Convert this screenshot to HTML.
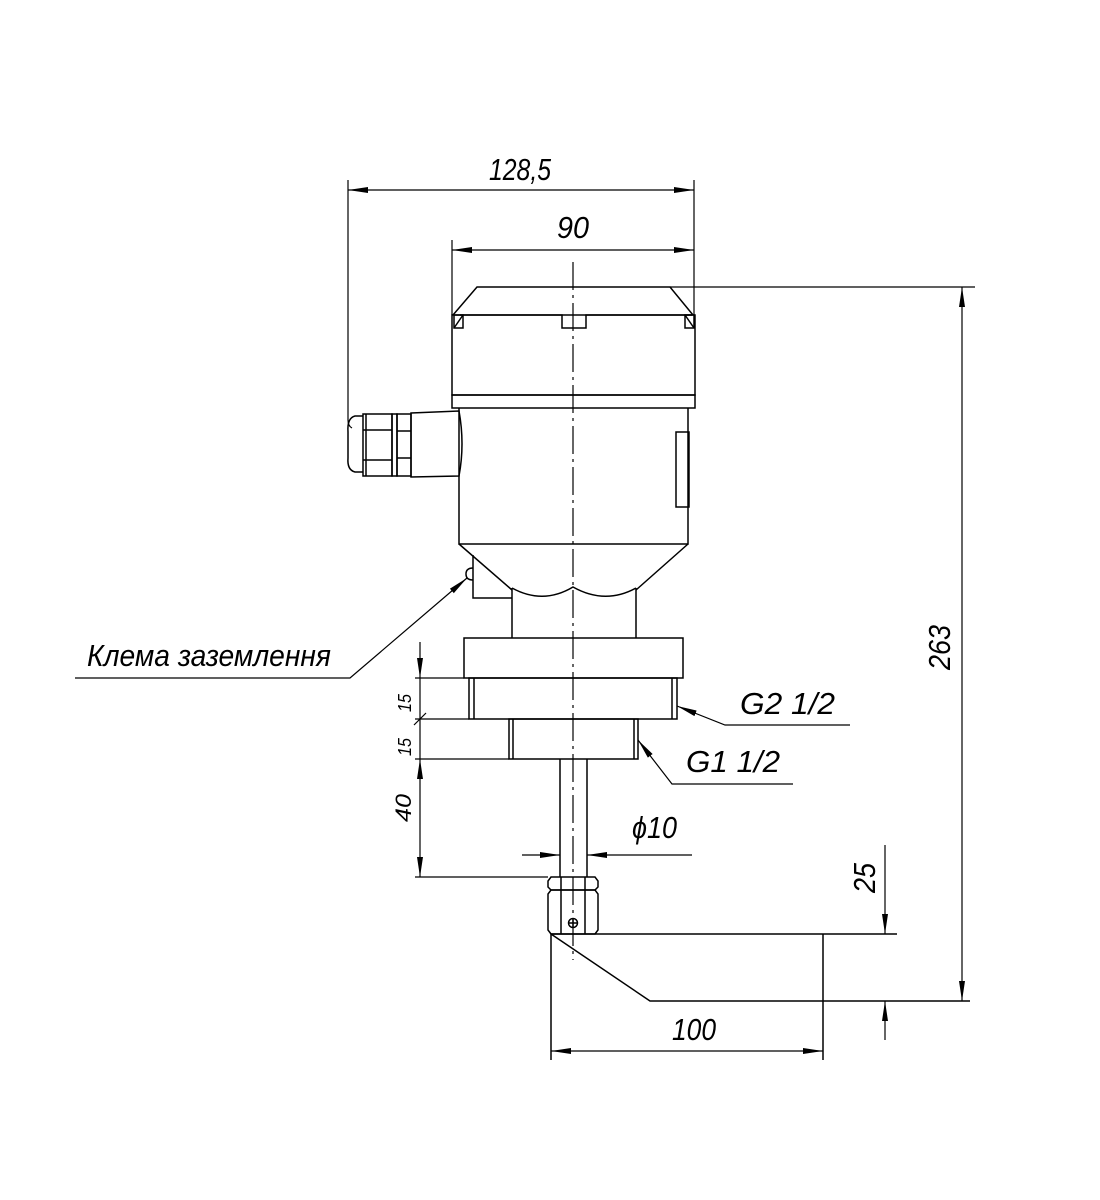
<!DOCTYPE html>
<html><head><meta charset="utf-8"><style>
html,body{margin:0;padding:0;background:#fff;}
svg{display:block;}
text{font-family:"Liberation Sans",sans-serif;font-style:italic;fill:#000;}
</style></head><body>
<svg width="1100" height="1200" viewBox="0 0 1100 1200" xmlns="http://www.w3.org/2000/svg">
<defs>
<marker id="a" viewBox="0 0 20 6" refX="20" refY="3" markerWidth="20" markerHeight="6" markerUnits="userSpaceOnUse" orient="auto-start-reverse"><path d="M0,0 L20,3 L0,6 Z" fill="#000"/></marker>
</defs>
<g fill="none" stroke="#000" stroke-width="1.5">
<line x1="573" y1="262" x2="573" y2="960" stroke-dasharray="28,5,3,5" stroke-width="1.2"/>
<path d="M453,315 L477,287 L670,287 L693,315"/>
<path d="M460,315 L562,315 L562,328 L586,328 L586,315 L692,315"/>
<rect x="454" y="315" width="9" height="13"/><line x1="454" y1="328" x2="463" y2="315"/>
<rect x="685" y="315" width="9" height="13"/><line x1="694" y1="328" x2="685" y2="315"/>
<rect x="452" y="315" width="243" height="80"/>
<rect x="452" y="395" width="243" height="13"/>
<path d="M459,408 L459,544 L688,544 L688,408"/>
<rect x="676" y="432" width="13" height="75"/>
<path d="M411,413 L459,411 Q465,444 459,476 L411,477 Z"/>
<rect x="397" y="414" width="14" height="62"/>
<line x1="397" y1="431" x2="411" y2="431"/><line x1="397" y1="458" x2="411" y2="458"/>
<rect x="392" y="414" width="5" height="62"/>
<path d="M363,414 L392,414 L392,476 L363,476 Z"/>
<line x1="366" y1="414" x2="366" y2="476"/><line x1="363" y1="430" x2="392" y2="430"/><line x1="363" y1="460" x2="392" y2="460"/>
<path d="M363,416 L355,416 Q347,418 348,432 L348,458 Q347,470 355,472 L363,472"/>
<path d="M459,544 L512,590 M688,544 L636,590"/>
<path d="M512,588 Q543,605 573,587 Q605,605 636,588"/>
<path d="M473,555 L473,598 L512,598"/>
<path d="M473,568 Q466,568 466,574 Q466,580 473,580"/>
<line x1="512" y1="588" x2="512" y2="638"/><line x1="636" y1="588" x2="636" y2="638"/>
<rect x="464" y="638" width="219" height="40"/>
<rect x="469" y="678" width="208" height="41"/>
<line x1="474" y1="678" x2="474" y2="719"/><line x1="672" y1="678" x2="672" y2="719"/>
<rect x="509" y="719" width="129" height="40"/>
<line x1="513" y1="719" x2="513" y2="759"/><line x1="634" y1="719" x2="634" y2="759"/>
<line x1="560" y1="759" x2="560" y2="877"/><line x1="587" y1="759" x2="587" y2="877"/>
<path d="M551,877 L595,877 L598,881 L598,887 L595,890 L551,890 L548,887 L548,881 Z"/>
<line x1="561" y1="877" x2="561" y2="890"/><line x1="585" y1="877" x2="585" y2="890"/>
<path d="M551,890 L595,890 L598,894 L598,930 L595,934 L551,934 L548,930 L548,894 Z"/>
<line x1="561" y1="890" x2="561" y2="934"/><line x1="585" y1="890" x2="585" y2="934"/>
<circle cx="573" cy="923" r="4.5"/><line x1="569" y1="923" x2="577" y2="923"/><line x1="573" y1="919" x2="573" y2="927"/>
<line x1="551" y1="934" x2="897" y2="934"/>
<path d="M551,934 L650,1001 L970,1001"/>
<line x1="823" y1="934" x2="823" y2="1060"/>
<line x1="551" y1="934" x2="551" y2="1060"/>
<line x1="348" y1="180" x2="348" y2="420" stroke-width="1.2"/>
<path d="M348,420 Q348,426 352,428" stroke-width="1.2"/>
<line x1="694" y1="180" x2="694" y2="315" stroke-width="1.2"/>
<line x1="452" y1="240" x2="452" y2="315" stroke-width="1.2"/>
<line x1="348" y1="190" x2="694" y2="190" stroke-width="1.2" marker-start="url(#a)" marker-end="url(#a)"/>
<line x1="452" y1="250" x2="694" y2="250" stroke-width="1.2" marker-start="url(#a)" marker-end="url(#a)"/>
<line x1="670" y1="287" x2="975" y2="287" stroke-width="1.2"/>
<line x1="962" y1="287" x2="962" y2="1001" stroke-width="1.2" marker-start="url(#a)" marker-end="url(#a)"/>
<line x1="885" y1="845" x2="885" y2="934" stroke-width="1.2" marker-end="url(#a)"/>
<line x1="885" y1="1040" x2="885" y2="1001" stroke-width="1.2" marker-end="url(#a)"/>
<line x1="551" y1="1051" x2="823" y2="1051" stroke-width="1.2" marker-start="url(#a)" marker-end="url(#a)"/>
<line x1="415" y1="678" x2="464" y2="678" stroke-width="1.2"/>
<line x1="415" y1="719" x2="469" y2="719" stroke-width="1.2"/>
<line x1="415" y1="759" x2="509" y2="759" stroke-width="1.2"/>
<line x1="415" y1="877" x2="548" y2="877" stroke-width="1.2"/>
<line x1="420" y1="642" x2="420" y2="678" stroke-width="1.2" marker-end="url(#a)"/>
<line x1="420" y1="678" x2="420" y2="759" stroke-width="1.2"/>
<line x1="420" y1="759" x2="420" y2="877" stroke-width="1.2" marker-start="url(#a)" marker-end="url(#a)"/>
<line x1="414" y1="725" x2="426" y2="713" stroke-width="1.2"/>
<line x1="522" y1="855" x2="560" y2="855" stroke-width="1.2" marker-end="url(#a)"/>
<line x1="692" y1="855" x2="587" y2="855" stroke-width="1.2" marker-end="url(#a)"/>
<path d="M850,725 L725,725 L677,706" stroke-width="1.2" marker-end="url(#a)"/>
<path d="M793,784 L672,784 L638,740" stroke-width="1.2" marker-end="url(#a)"/>
<path d="M75,678 L350,678 L467,578" stroke-width="1.2" marker-end="url(#a)"/>
</g>
<g font-size="31">
<text x="489" y="180" textLength="62" lengthAdjust="spacingAndGlyphs">128,5</text>
<text x="557" y="238" textLength="32" lengthAdjust="spacingAndGlyphs">90</text>
<text x="87" y="666" textLength="244" lengthAdjust="spacingAndGlyphs">Клема заземлення</text>
<text x="740" y="714" textLength="95" lengthAdjust="spacingAndGlyphs">G2 1/2</text>
<text x="686" y="772" textLength="94" lengthAdjust="spacingAndGlyphs">G1 1/2</text>
<text x="632" y="838" textLength="45" lengthAdjust="spacingAndGlyphs">ϕ10</text>
<text x="672" y="1040" textLength="44" lengthAdjust="spacingAndGlyphs">100</text>
<text transform="translate(875,893) rotate(-90)" textLength="30" lengthAdjust="spacingAndGlyphs">25</text>
<text transform="translate(950,670) rotate(-90)" textLength="45" lengthAdjust="spacingAndGlyphs">263</text>
<text transform="translate(411,822) rotate(-90)" font-size="22" textLength="28" lengthAdjust="spacingAndGlyphs">40</text>
</g>
<g font-size="18">
<text transform="translate(411,712) rotate(-90)" textLength="18" lengthAdjust="spacingAndGlyphs">15</text>
<text transform="translate(411,756) rotate(-90)" textLength="18" lengthAdjust="spacingAndGlyphs">15</text>
</g>
</svg>
</body></html>
